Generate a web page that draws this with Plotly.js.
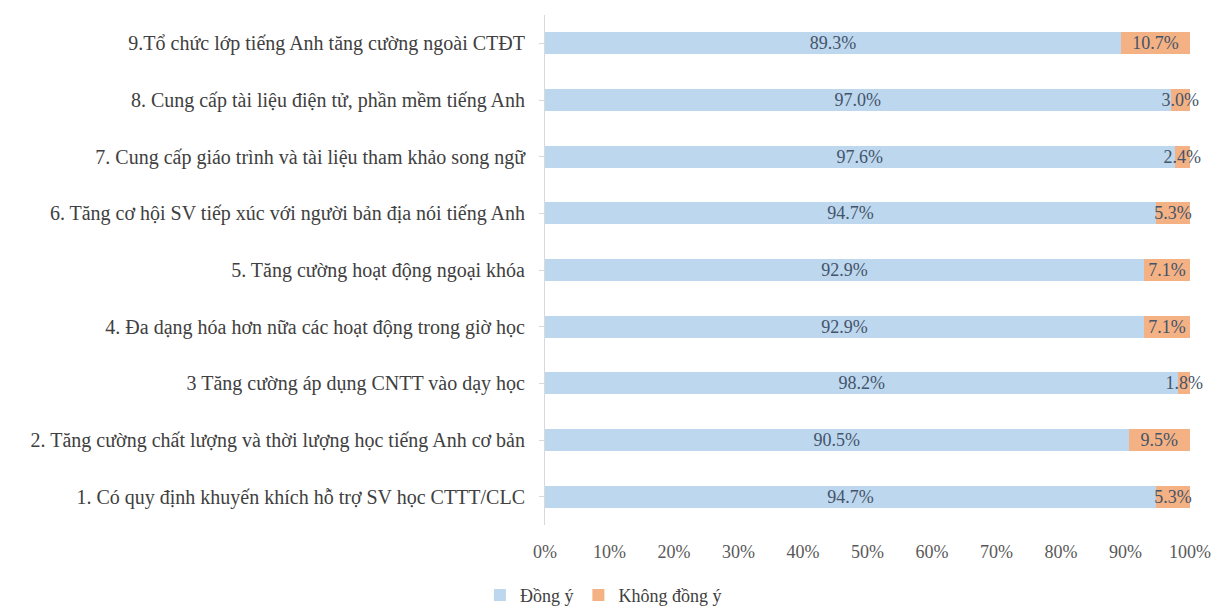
<!DOCTYPE html>
<html>
<head>
<meta charset="utf-8">
<script src="https://cdn.plot.ly/plotly-3.0.1.min.js"></script>
<style>html,body{margin:0;padding:0;background:#fff;}#chart{width:1218px;height:613px;}</style>
</head>
<body>
<div id="chart"></div>
<script>
const categories = [
  "1. Có quy định khuyến khích hỗ trợ SV học CTTT/CLC",
  "2. Tăng cường chất lượng và thời lượng học tiếng Anh cơ bản",
  "3 Tăng cường áp dụng CNTT vào dạy học",
  "4. Đa dạng hóa hơn nữa các hoạt động trong giờ học",
  "5. Tăng cường hoạt động ngoại khóa",
  "6. Tăng cơ hội SV tiếp xúc với người bản địa nói tiếng Anh",
  "7. Cung cấp giáo trình và tài liệu tham khảo song ngữ",
  "8. Cung cấp tài liệu điện tử, phần mềm tiếng Anh",
  "9.Tổ chức lớp tiếng Anh tăng cường ngoài CTĐT"
];
const dongY = [94.7, 90.5, 98.2, 92.9, 92.9, 94.7, 97.6, 97.0, 89.3];
const khongDongY = [5.3, 9.5, 1.8, 7.1, 7.1, 5.3, 2.4, 3.0, 10.7];
const xTickVals = [0,10,20,30,40,50,60,70,80,90,100];
const xTickText = ["0%","10%","20%","30%","40%","50%","60%","70%","80%","90%","100%"];

const fam = "Liberation Serif, Times New Roman, serif";

const traces = [
  {type:"bar", orientation:"h", name:"Đồng ý", y:categories, x:dongY,
   marker:{color:"#BDD7EE"}, text:dongY.map(v=>v.toFixed(1)+"%"),
   textposition:"inside", insidetextanchor:"middle", constraintext:"none", textangle:0, cliponaxis:false,
   textfont:{family:fam, size:18, color:"#44546A"}, hoverinfo:"x+name"},
  {type:"bar", orientation:"h", name:"Không đồng ý", y:categories, x:khongDongY,
   marker:{color:"#F4B183"}, text:khongDongY.map(v=>v.toFixed(1)+"%"),
   textposition:"inside", insidetextanchor:"middle", constraintext:"none", textangle:0, cliponaxis:false,
   textfont:{family:fam, size:18, color:"#44546A"}, hoverinfo:"x+name"}
];

const layout = {
  width:1218, height:613,
  barmode:"stack", bargap:0.61,
  margin:{l:545, r:28, t:15, b:88},
  paper_bgcolor:"#fff", plot_bgcolor:"#fff",
  font:{family:fam, size:18, color:"#404040"},
  showlegend:true,
  legend:{orientation:"h", xref:"container", yref:"container", x:0.394, xanchor:"left", y:0.059, yanchor:"top",
          font:{family:fam, size:18, color:"#404040"}, itemwidth:30, traceorder:"normal"},
  xaxis:{range:[0,100], tickvals:xTickVals, ticktext:xTickText, showgrid:false, automargin:false,
         zeroline:false, showline:false, ticks:"", ticklabelstandoff:14,
         tickfont:{family:fam, size:18, color:"#595959"}, fixedrange:true},
  yaxis:{categoryorder:"array", categoryarray:categories, showline:true, linecolor:"#D9D9D9", linewidth:1,
         ticks:"outside", ticklen:5, tickcolor:"#D9D9D9", showgrid:false, zeroline:false, automargin:false,
         ticklabelstandoff:10,
         tickfont:{family:fam, size:20, color:"#404040"}, fixedrange:true}
};

Plotly.newPlot("chart", traces, layout, {displayModeBar:false, staticPlot:true});
</script>
</body>
</html>
